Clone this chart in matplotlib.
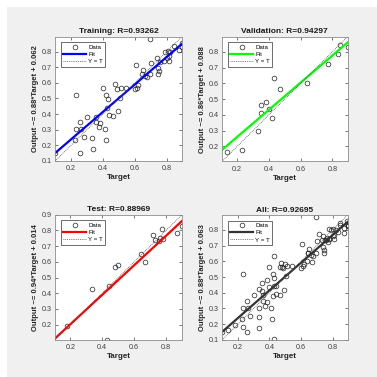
import matplotlib
matplotlib.use("Agg")
import matplotlib.pyplot as plt
import numpy as np
from matplotlib.patches import Rectangle

plt.rcParams['font.family'] = ['Liberation Sans', 'DejaVu Sans']

# ---- data ----
train_t = [0.10, 0.259, 0.337, 0.417, 0.331, 0.28, 0.227, 0.231, 0.263, 0.259, 0.301, 0.358,
           0.358, 0.384, 0.375, 0.411, 0.231, 0.40, 0.422, 0.432, 0.428, 0.439, 0.464, 0.495,
           0.474, 0.485, 0.512, 0.544, 0.506, 0.607, 0.622, 0.616, 0.60, 0.643, 0.65, 0.664,
           0.675, 0.696, 0.70, 0.696, 0.738, 0.742, 0.749, 0.744, 0.78, 0.79, 0.80, 0.812,
           0.812, 0.822, 0.848, 0.875, 0.892, 0.896, 0.805, 0.76]
train_y = [0.152, 0.152, 0.176, 0.235, 0.246, 0.25, 0.235, 0.305, 0.305, 0.35, 0.384, 0.384,
           0.346, 0.34, 0.314, 0.303, 0.522, 0.564, 0.52, 0.494, 0.441, 0.394, 0.389, 0.42,
           0.59, 0.558, 0.569, 0.569, 0.505, 0.711, 0.585, 0.569, 0.56, 0.654, 0.679, 0.643,
           0.637, 0.654, 0.728, 0.881, 0.76, 0.692, 0.675, 0.654, 0.74, 0.80, 0.76, 0.74,
           0.77, 0.80, 0.834, 0.813, 0.855, 0.828, 0.806, 0.735]

val_t = [0.137, 0.232, 0.331, 0.352, 0.352, 0.384, 0.40, 0.422, 0.43, 0.468, 0.637, 0.774,
         0.833, 0.85, 0.896]
val_y = [0.165, 0.18, 0.30, 0.414, 0.462, 0.484, 0.437, 0.378, 0.632, 0.564, 0.60, 0.724,
         0.787, 0.845, 0.832]

test_t = [0.179, 0.337, 0.443, 0.428, 0.481, 0.50, 0.643, 0.668, 0.716, 0.734, 0.755, 0.765,
          0.776, 0.78, 0.871, 0.898]
test_y = [0.193, 0.424, 0.446, 0.103, 0.565, 0.58, 0.652, 0.599, 0.771, 0.739, 0.734, 0.749,
          0.809, 0.745, 0.781, 0.828]

titles = ["Training", "Validation", "Test", "All"]
r_values = [0.93262, 0.94297, 0.88969, 0.92695]
slopes = [0.88, 0.86, 0.94, 0.88]
intercepts = [0.062, 0.088, 0.014, 0.063]
fit_colors = ["#0000ff", "#00ff00", "#ff0000", "#333333"]

x_ticks = [0.2, 0.4, 0.6, 0.8]
y_ticks = [[0.1, 0.2, 0.3, 0.4, 0.5, 0.6, 0.7, 0.8],
           [0.2, 0.3, 0.4, 0.5, 0.6, 0.7, 0.8],
           [0.2, 0.3, 0.4, 0.5, 0.6, 0.7, 0.8, 0.9],
           [0.1, 0.2, 0.3, 0.4, 0.5, 0.6, 0.7, 0.8]]

all_t = train_t + val_t + test_t
all_y = train_y + val_y + test_y
sets = [(train_t, train_y), (val_t, val_y), (test_t, test_y), (all_t, all_y)]

# ---- layout (pixels in a 377x377 image) ----
W = 377.0
boxes = [(55, 36.7, 182, 161), (222, 36.7, 347.5, 161.5),
         (55, 214.7, 182, 339.7), (222, 215, 347.5, 340)]
limits = [(0.0995, 0.895), (0.105, 0.895), (0.104, 0.9005), (0.0995, 0.895)]

fig = plt.figure(figsize=(3.77, 3.77), dpi=100, facecolor="white")
fig.patches.append(Rectangle((7 / W, 0), 1 - 7 / W, 1 - 7 / W, transform=fig.transFigure,
                             facecolor="#f0f0f0", edgecolor="none", zorder=-10))

for i in range(4):
    l, t, r, b = boxes[i]
    ax = fig.add_axes([l / W, 1 - b / W, (r - l) / W, (b - t) / W])
    ax.set_facecolor("white")
    lo, hi = limits[i]
    tt, yy = sets[i]
    ax.plot(tt, yy, linestyle="none", marker="o", markersize=3.4, markerfacecolor="none",
            markeredgecolor="#222222", markeredgewidth=0.5, label="Data")
    xs = np.array([lo, hi])
    ax.plot(xs, slopes[i] * xs + intercepts[i], color=fit_colors[i], lw=1.6, label="Fit")
    ax.plot(xs, xs, color="#555555", lw=0.6, linestyle=(0, (1, 1.2)), label="Y = T")
    ax.set_xlim(lo, hi)
    ax.set_ylim(lo, hi)
    ax.set_xticks(x_ticks)
    ax.set_yticks(y_ticks[i])
    ax.set_xticklabels([f"{v:.1f}" for v in x_ticks])
    ax.set_yticklabels([f"{v:.1f}" for v in y_ticks[i]])
    ax.tick_params(direction="in", length=2, width=0.5, labelsize=5.2, colors="#404040",
                   top=True, right=True, pad=2)
    ax.tick_params(axis="x", pad=3)
    for s in ax.spines.values():
        s.set_color("#8c8c8c")
        s.set_linewidth(0.6)
    ax.set_title(f"{titles[i]}: R={r_values[i]:.5f}", fontsize=6, fontweight="bold",
                 color="#1a1a1a", pad=2.5)
    ax.set_xlabel("Target", fontsize=5.8, fontweight="bold", color="#262626", labelpad=1.5)
    ax.set_ylabel(f"Output ~= {slopes[i]:.2f}*Target + {intercepts[i]:.3f}",
                  fontsize=5.5, fontweight="bold", color="#262626", labelpad=2)
    leg = ax.legend(loc="upper left", fontsize=4.4, handlelength=3.8, handletextpad=0.3,
                    borderpad=0.4, labelspacing=0.3, fancybox=False, framealpha=1,
                    edgecolor="#333333", bbox_to_anchor=(0.045, 0.955), borderaxespad=0)
    leg.get_frame().set_linewidth(0.5)

fig.savefig("out.png", dpi=100, facecolor=fig.get_facecolor())
